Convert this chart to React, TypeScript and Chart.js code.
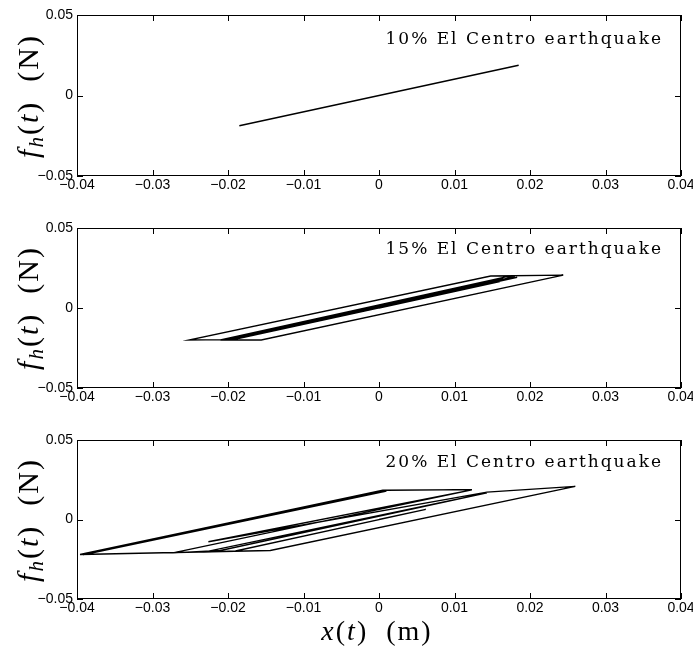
import React, { useEffect, useRef } from 'react';
import { Chart, registerables } from 'chart.js';

Chart.register(...registerables);

// ---- data ----
const xTicks = [-0.04, -0.03, -0.02, -0.01, 0, 0.01, 0.02, 0.03, 0.04];
const yTicks = [-0.05, 0, 0.05];
const panelTitles = ['10% El Centro earthquake', '15% El Centro earthquake', '20% El Centro earthquake'];

const p1X = [-0.0185, 0.0185];
const p1Y = [-0.0188, 0.0188];

const p2X = [0, 0.016, -0.0185, 0.0172, 0.0183, -0.0192, -0.021, 0.0168, 0.018, -0.02, -0.0252, 0.0148, 0.0244, -0.0156, -0.02, 0.0175, -0.0195, 0.0165, -0.018, 0.015, -0.012, 0.006, 0];
const p2Y = [0, 0.0165, -0.019, 0.0185, 0.0192, -0.0196, -0.02, 0.0194, 0.0196, -0.0198, -0.02, 0.02, 0.0206, -0.02, -0.02, 0.0188, -0.0198, 0.0187, -0.0172, 0.016, -0.0115, 0.0068, 0.0005];

const p3X = [0, 0.0062, -0.019, -0.0232, 0.0143, -0.021, -0.0273, 0.0123, -0.0226, 0.0143, 0.026, -0.0144, -0.0396, 0.0005, 0.0123, 0.001, -0.039, -0.0392, 0.001];
const p3Y = [0, 0.0063, -0.0198, -0.0205, 0.0168, -0.0195, -0.021, 0.0186, -0.014, 0.0172, 0.0208, -0.0195, -0.022, 0.0185, 0.0188, 0.0183, -0.0218, -0.0222, 0.0179];

const seriesX = [p1X, p2X, p3X];
const seriesY = [p1Y, p2Y, p3Y];

// ---- layout ----
const W = 693;
const LEFT = 77;
const RIGHT = 681;
const PANELS = [
  { top: 15, bottom: 176, titleBase: 45 },
  { top: 228, bottom: 388, titleBase: 255 },
  { top: 440, bottom: 599, titleBase: 468 },
];
const PAD_TOP = 15;
const XAX_H = 25;

const fmt = (v: number) => {
  if (Math.abs(v) < 1e-9) return '0';
  const s = Math.abs(v).toFixed(2);
  return v < 0 ? '\u2212' + s : s;
};

const boxPlugin = {
  id: 'matlabBox',
  afterDatasetsDraw(chart: any) {
    const { ctx, chartArea, scales } = chart;
    const { left, right, top, bottom } = chartArea;
    const x = scales.x;
    const y = scales.y;
    ctx.save();
    ctx.strokeStyle = '#000';
    ctx.lineWidth = 1;
    ctx.beginPath();
    for (const v of xTicks) {
      const px = Math.round(x.getPixelForValue(v)) + 0.5;
      ctx.moveTo(px, bottom);
      ctx.lineTo(px, bottom - 6);
      ctx.moveTo(px, top);
      ctx.lineTo(px, top + 6);
    }
    for (const v of yTicks) {
      const py = Math.round(y.getPixelForValue(v)) + 0.5;
      ctx.moveTo(left, py);
      ctx.lineTo(left + 6, py);
      ctx.moveTo(right, py);
      ctx.lineTo(right - 6, py);
    }
    ctx.stroke();
    ctx.strokeRect(Math.round(left) + 0.5, Math.round(top) + 0.5, Math.round(right - left) - 1, Math.round(bottom - top) - 1);
    ctx.restore();
  },
};

function Panel({ idx }: { idx: number }) {
  const ref = useRef<HTMLCanvasElement | null>(null);
  const P = PANELS[idx];
  const h = PAD_TOP + (P.bottom - P.top) + XAX_H;
  useEffect(() => {
    if (!ref.current) return;
    const xs = seriesX[idx];
    const ys = seriesY[idx];
    const data = xs.map((xv, i) => ({ x: xv, y: ys[i] }));
    const chart = new Chart(ref.current, {
      type: 'scatter',
      data: {
        datasets: [
          {
            data,
            showLine: true,
            borderColor: '#000',
            borderWidth: idx === 0 ? 1.5 : 1.3,
            pointRadius: 0,
            tension: 0,
            fill: false,
          } as any,
        ],
      },
      options: {
        animation: false,
        responsive: false,
        devicePixelRatio: 1,
        layout: { padding: { top: PAD_TOP, right: W - RIGHT, left: 0, bottom: 0 } },
        plugins: { legend: { display: false }, tooltip: { enabled: false } },
        scales: {
          x: {
            type: 'linear',
            min: -0.04,
            max: 0.04,
            afterBuildTicks: (s: any) => {
              s.ticks = xTicks.map((v) => ({ value: v }));
            },
            grid: { display: false, drawTicks: false },
            border: { display: false },
            ticks: {
              padding: 1,
              color: '#000',
              font: { family: 'Liberation Sans', size: 14 },
              maxRotation: 0,
              minRotation: 0,
              autoSkip: false,
              callback: (v: any) => fmt(Number(v)),
            },
            afterFit: (s: any) => {
              s.height = XAX_H;
              s.paddingLeft = 0;
              s.paddingRight = 0;
            },
          },
          y: {
            type: 'linear',
            min: -0.05,
            max: 0.05,
            afterBuildTicks: (s: any) => {
              s.ticks = yTicks.map((v) => ({ value: v }));
            },
            grid: { display: false, drawTicks: false },
            border: { display: false },
            ticks: {
              padding: 4,
              color: '#000',
              font: { family: 'Liberation Sans', size: 14 },
              autoSkip: false,
              callback: (v: any) => fmt(Number(v)),
            },
            afterFit: (s: any) => {
              s.width = LEFT;
              s.paddingTop = 0;
              s.paddingBottom = 0;
            },
          },
        },
      } as any,
      plugins: [boxPlugin],
    });
    return () => chart.destroy();
  }, [idx]);
  return (
    <canvas
      ref={ref}
      width={W}
      height={h}
      style={{ position: 'absolute', left: 0, top: P.top - PAD_TOP, width: W, height: h }}
    />
  );
}

const mathFont = '"Liberation Serif", "Times New Roman", serif';

function YLabel({ cy }: { cy: number }) {
  return (
    <div
      style={{
        position: 'absolute',
        left: 28,
        top: cy,
        transform: 'translate(-50%, -50%) rotate(-90deg)',
        fontFamily: mathFont,
        fontSize: 30,
        lineHeight: '34px',
        whiteSpace: 'nowrap',
        letterSpacing: 2,
        color: '#000',
      }}
    >
      <i>f</i>
      <sub style={{ fontSize: '0.7em', verticalAlign: '-0.25em', lineHeight: 0 }}>
        <i>h</i>
      </sub>
      (<i>t</i>)&nbsp;&nbsp;(N)
    </div>
  );
}

export default function App() {
  return (
    <div style={{ position: 'absolute', left: 0, top: 0, width: W, height: 648, background: '#fff', overflow: 'hidden' }}>
      {PANELS.map((P, i) => (
        <Panel key={i} idx={i} />
      ))}
      {PANELS.map((P, i) => (
        <div
          key={'t' + i}
          style={{
            position: 'absolute',
            left: 0,
            width: 663,
            top: P.titleBase - 15,
            textAlign: 'right',
            fontFamily: '"DejaVu Serif", serif',
            fontSize: 17,
            lineHeight: '17px',
            letterSpacing: 2,
            whiteSpace: 'nowrap',
            color: '#000',
          }}
        >
          {panelTitles[i]}
        </div>
      ))}
      {PANELS.map((P, i) => (
        <YLabel key={'y' + i} cy={(P.top + P.bottom) / 2} />
      ))}
      <div
        style={{
          position: 'absolute',
          left: 377,
          top: 631,
          transform: 'translate(-50%, -50%)',
          fontFamily: mathFont,
          fontSize: 28,
          lineHeight: '32px',
          letterSpacing: 2,
          whiteSpace: 'nowrap',
          color: '#000',
        }}
      >
        <i>x</i>(<i>t</i>)&nbsp;&nbsp;(m)
      </div>
    </div>
  );
}
